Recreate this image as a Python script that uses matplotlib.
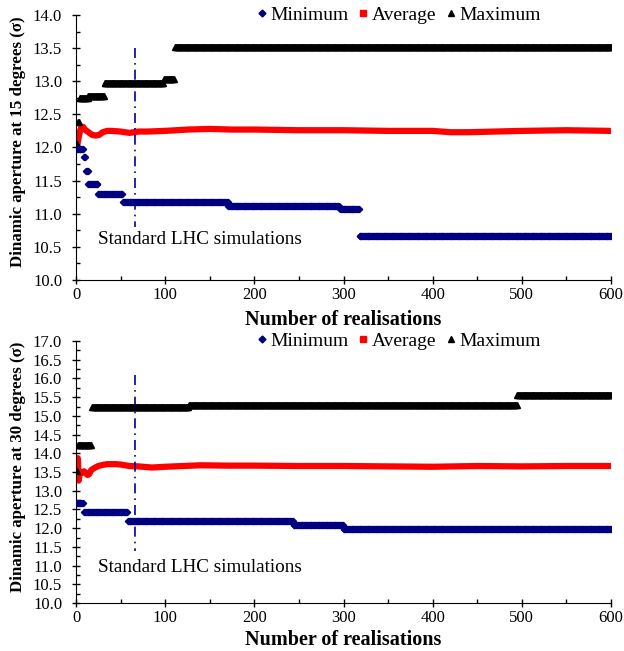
import numpy as np
import matplotlib
matplotlib.use("Agg")
import matplotlib.pyplot as plt
from matplotlib.ticker import MultipleLocator, FormatStrFormatter

plt.rcParams["font.family"] = ["Liberation Serif", "DejaVu Serif"]

# 15 degrees: running min / max as steps (first realisation of each step, value)
min15_start = [1, 9, 11, 14, 25, 53, 171, 296, 318]
min15_val = [11.97, 11.86, 11.65, 11.45, 11.29, 11.17, 11.11, 11.07, 10.66]
max15_start = [1, 2, 4, 14, 32, 99, 111]
max15_val = [12.05, 12.39, 12.74, 12.78, 12.97, 13.03, 13.52]
# average read at selected realisations
avg15_x = [1, 2, 3, 4, 5, 6, 7, 8, 10, 12, 15, 18, 22, 26, 30, 35, 40, 50, 60, 70,
           80, 100, 125, 150, 175, 200, 250, 300, 350, 400, 420, 440, 470, 500, 550, 600]
avg15_y = [12.00, 12.08, 12.15, 12.22, 12.27, 12.30, 12.29, 12.31, 12.27, 12.25, 12.22,
           12.19, 12.18, 12.19, 12.23, 12.25, 12.25, 12.24, 12.22, 12.24, 12.24, 12.25,
           12.27, 12.28, 12.27, 12.27, 12.26, 12.26, 12.25, 12.25, 12.23, 12.23, 12.24,
           12.25, 12.26, 12.25]

# 30 degrees
min30_start = [1, 9, 58, 244, 300]
min30_val = [12.67, 12.43, 12.18, 12.08, 11.99]
max30_start = [1, 2, 18, 127, 495]
max30_val = [13.52, 14.21, 15.24, 15.30, 15.56]
avg30_x = [1, 2, 3, 4, 5, 7, 9, 11, 13, 15, 17, 20, 25, 30, 35, 40, 45, 50, 55, 60,
           70, 85, 100, 120, 140, 170, 200, 250, 300, 350, 400, 450, 500, 550, 600]
avg30_y = [13.50, 13.87, 13.27, 13.42, 13.50, 13.48, 13.52, 13.47, 13.42, 13.45, 13.55,
           13.60, 13.66, 13.69, 13.71, 13.71, 13.71, 13.70, 13.68, 13.66, 13.65, 13.62,
           13.64, 13.66, 13.68, 13.67, 13.67, 13.66, 13.66, 13.65, 13.64, 13.66, 13.65,
           13.66, 13.66]

n_real = 600
xs = np.arange(1, n_real + 1)


def expand(starts, vals):
    lens = np.diff(starts + [n_real + 1])
    return np.repeat(vals, lens)


fig = plt.figure(figsize=(6.24, 6.51), dpi=100)
ax1 = fig.add_axes([0.1218, 0.570, 0.8574, 0.407])
ax2 = fig.add_axes([0.1218, 0.0737, 0.8574, 0.4025])

panels = [
    (ax1, min15_start, min15_val, max15_start, max15_val, avg15_x, avg15_y,
     (10, 14), (13.5, 10.8), 240, "Dinamic aperture at 15 degrees (σ)", -0.1887),
    (ax2, min30_start, min30_val, max30_start, max30_val, avg30_x, avg30_y,
     (10, 17), (16.1, 11.4), 567, "Dinamic aperture at 30 degrees (σ)", -0.179),
]

for ax, mns, mnv, mxs, mxv, ax_x, ax_y, ylim, vline, txt_y, ylab, xlab_y in panels:
    ax.plot(xs, expand(mxs, mxv), linestyle="none", marker="^", ms=4.2,
            color="black", zorder=3)
    ax.plot(ax_x, ax_y, color="#ff0000", lw=4.5, solid_capstyle="round", zorder=2)
    ax.plot(xs, expand(mns, mnv), linestyle="none", marker="D", ms=3.2,
            color="#000080", zorder=3)

    # legend proxies
    h_min, = ax.plot([], [], linestyle="none", marker="D", ms=3.5, color="#000080")
    h_avg, = ax.plot([], [], linestyle="none", marker="s", ms=4.5, color="#ff0000")
    h_max, = ax.plot([], [], linestyle="none", marker="^", ms=4.5, color="black")
    ax.legend([h_min, h_avg, h_max], ["Minimum", "Average", "Maximum"], ncol=3,
              loc="center", bbox_to_anchor=(0.603, 1.0), frameon=False,
              fontsize=14, handlelength=0.6, handletextpad=0.15, columnspacing=0.45,
              borderaxespad=0, borderpad=0)

    ax.plot([66, 66], list(vline), color="#00009a", lw=1.2, linestyle=(0, (6, 3, 1, 3)))
    fig.text(98 / 624, 1 - txt_y / 651, "Standard LHC simulations", fontsize=13.8,
             va="center", ha="left")

    ax.set_xlim(0, 600)
    ax.set_ylim(*ylim)
    ax.xaxis.set_major_locator(MultipleLocator(100))
    ax.xaxis.set_minor_locator(MultipleLocator(50))
    ax.yaxis.set_major_locator(MultipleLocator(0.5))
    ax.yaxis.set_minor_locator(MultipleLocator(0.25))
    ax.yaxis.set_major_formatter(FormatStrFormatter("%.1f"))
    ax.tick_params(which="major", direction="inout", length=6, width=1,
                   labelsize=12)
    ax.tick_params(which="minor", direction="in", length=3, width=1)
    ax.tick_params(axis="x", which="major", pad=2)
    ax.tick_params(axis="y", which="major", pad=7)
    for s in ["top", "right"]:
        ax.spines[s].set_visible(False)

    ax.set_ylabel(ylab, fontsize=12.2, fontweight="bold")
    ax.yaxis.set_label_coords(-0.108, 0.52)
    ax.yaxis.label.set_va("center")
    ax.set_xlabel("Number of realisations", fontsize=14.5, fontweight="bold")
    ax.xaxis.label.set_va("bottom")
    ax.xaxis.set_label_coords(0.5, xlab_y)

fig.savefig("out.png", dpi=100)
